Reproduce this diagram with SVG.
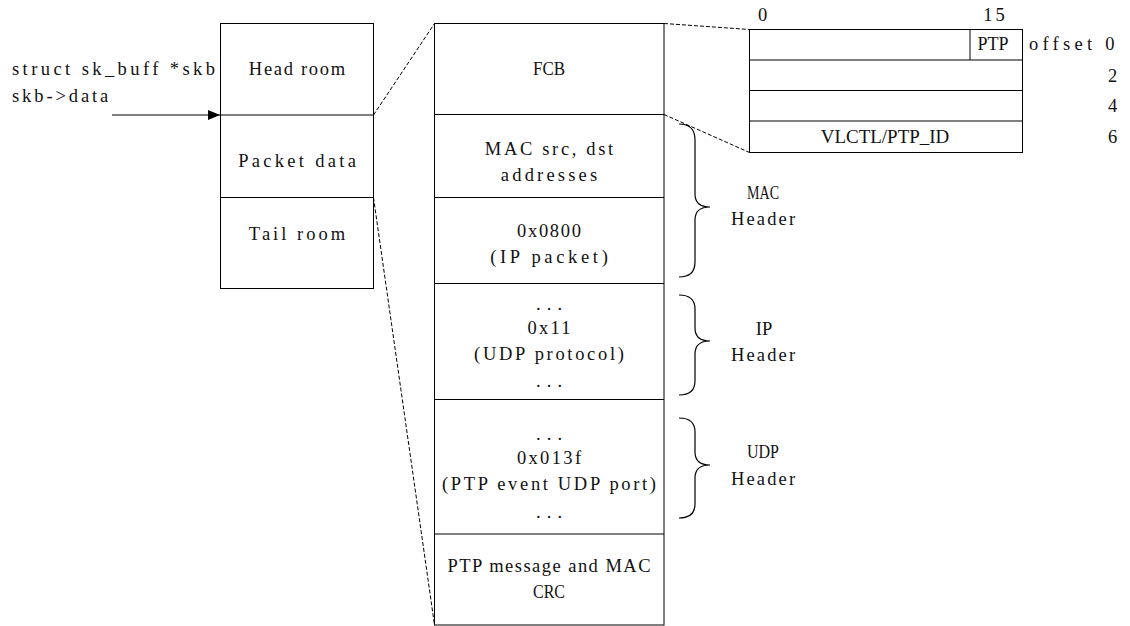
<svg xmlns="http://www.w3.org/2000/svg" width="1130" height="626" viewBox="0 0 1130 626">
  <style>
    text { font-family: "Liberation Serif", "DejaVu Serif", serif; font-size: 18.5px; fill: #111; }
    .c { text-anchor: middle; }
    .box { fill: #fff; stroke: #000; stroke-width: 1; }
    .rule { stroke: #000; stroke-width: 1; fill: none; }
    .dash { stroke: #000; stroke-width: 1; stroke-dasharray: 4 2; fill: none; }
    .brace { stroke: #000; stroke-width: 1.2; fill: none; }
  </style>
  <defs>
    <marker id="arrow" viewBox="0 0 12 10" refX="12" refY="5" markerWidth="12" markerHeight="10" markerUnits="userSpaceOnUse" orient="auto">
      <path d="M0,0 L12,5 L0,10 Z" fill="#000"/>
    </marker>
  </defs>

  <rect width="1130" height="626" fill="#fff"/>

  <!-- pointer labels; fixed-pitch cells of 10.7px per character -->
  <g id="skb-label">
    <text x="12" y="75" textLength="203" lengthAdjust="spacing">struct sk_buff *skb</text>
    <text x="12" y="101.5" textLength="96.3" lengthAdjust="spacing">skb-&gt;data</text>
  </g>

  <!-- socket buffer -->
  <g id="skb-buffer">
    <rect class="box" x="220.5" y="23.5" width="153" height="265"/>
    <line class="rule" x1="220.5" y1="115" x2="373.5" y2="115"/>
    <line class="rule" x1="220.5" y1="197.5" x2="373.5" y2="197.5"/>
    <text class="c" x="297" y="75" textLength="96.3" lengthAdjust="spacing">Head room</text>
    <text class="c" x="297" y="166.5" textLength="117.7" lengthAdjust="spacing">Packet data</text>
    <text class="c" x="297" y="240" textLength="96.3" lengthAdjust="spacing">Tail room</text>
  </g>

  <!-- packet layout -->
  <g id="packet">
    <rect class="box" x="434.5" y="23.5" width="229.5" height="601.5"/>
    <line class="rule" x1="434.5" y1="114.5" x2="664" y2="114.5"/>
    <line class="rule" x1="434.5" y1="197.5" x2="664" y2="197.5"/>
    <line class="rule" x1="434.5" y1="283.5" x2="664" y2="283.5"/>
    <line class="rule" x1="434.5" y1="399.5" x2="664" y2="399.5"/>
    <line class="rule" x1="434.5" y1="534" x2="664" y2="534"/>
    <text class="c" x="549" y="75" textLength="32" lengthAdjust="spacingAndGlyphs">FCB</text>
    <text class="c" x="549" y="155" textLength="128.4" lengthAdjust="spacing">MAC src, dst</text>
    <text class="c" x="549" y="180.5" textLength="96.3" lengthAdjust="spacing">addresses</text>
    <text class="c" x="549" y="237" textLength="64.2" lengthAdjust="spacing">0x0800</text>
    <text class="c" x="549" y="262.5" textLength="117.7" lengthAdjust="spacing">(IP packet)</text>
    <text class="c" x="549" y="310" textLength="26" lengthAdjust="spacing">...</text>
    <text class="c" x="549" y="334" textLength="42.8" lengthAdjust="spacing">0x11</text>
    <text class="c" x="549" y="360" textLength="149.8" lengthAdjust="spacing">(UDP protocol)</text>
    <text class="c" x="549" y="387" textLength="26" lengthAdjust="spacing">...</text>
    <text class="c" x="549" y="440" textLength="26" lengthAdjust="spacing">...</text>
    <text class="c" x="549" y="463.5" textLength="64.2" lengthAdjust="spacing">0x013f</text>
    <text class="c" x="549" y="490" textLength="214" lengthAdjust="spacing">(PTP event UDP port)</text>
    <text class="c" x="549" y="518" textLength="26" lengthAdjust="spacing">...</text>
    <text class="c" x="549" y="571.5" textLength="203" lengthAdjust="spacing">PTP message and MAC</text>
    <text class="c" x="549" y="598" textLength="32" lengthAdjust="spacingAndGlyphs">CRC</text>
  </g>

  <!-- FCB layout -->
  <g id="fcb">
    <rect class="box" x="749.5" y="29.5" width="273" height="123"/>
    <line class="rule" x1="749.5" y1="60" x2="1022.5" y2="60"/>
    <line class="rule" x1="749.5" y1="90.5" x2="1022.5" y2="90.5"/>
    <line class="rule" x1="749.5" y1="121" x2="1022.5" y2="121"/>
    <line class="rule" x1="970" y1="29.5" x2="970" y2="60"/>
    <text x="758" y="21">0</text>
    <text class="c" x="994" y="21" textLength="21.4" lengthAdjust="spacing">15</text>
    <text class="c" x="993" y="50" textLength="31" lengthAdjust="spacingAndGlyphs">PTP</text>
    <text class="c" x="885" y="143" textLength="128.4" lengthAdjust="spacingAndGlyphs">VLCTL/PTP_ID</text>
    <text x="1029" y="50" textLength="85.6" lengthAdjust="spacing">offset 0</text>
    <text x="1108" y="81.5">2</text>
    <text x="1108" y="112">4</text>
    <text x="1108" y="143">6</text>
  </g>

  <!-- header braces -->
  <g id="mac-header">
    <path class="brace" d="M679,124 C690,124 695,130 695,140 L695,194 C695,203 700,207 710,207 C700,207 695,211 695,220 L695,262 C695,272 690,277 679,277"/>
    <text class="c" x="763" y="199" textLength="32" lengthAdjust="spacingAndGlyphs">MAC</text>
    <text class="c" x="763" y="225" textLength="64.2" lengthAdjust="spacing">Header</text>
  </g>
  <g id="ip-header">
    <path class="brace" d="M679,295 C690,295 695,300 695,309 L695,328 C695,337 700,341 710,341 C700,341 695,345 695,354 L695,381 C695,390 690,395 679,395"/>
    <text class="c" x="764" y="335">IP</text>
    <text class="c" x="763" y="361" textLength="64.2" lengthAdjust="spacing">Header</text>
  </g>
  <g id="udp-header">
    <path class="brace" d="M679,418 C690,418 695,423 695,432 L695,452 C695,461 700,465 710,465 C700,465 695,469 695,478 L695,504 C695,513 690,518 679,518"/>
    <text class="c" x="763" y="458" textLength="32" lengthAdjust="spacingAndGlyphs">UDP</text>
    <text class="c" x="763" y="485" textLength="64.2" lengthAdjust="spacing">Header</text>
  </g>

  <!-- connectors -->
  <g id="connectors">
    <line class="rule" x1="112" y1="115" x2="220" y2="115" marker-end="url(#arrow)"/>
    <line class="dash" x1="373.5" y1="115" x2="434.5" y2="23.5"/>
    <line class="dash" x1="373.5" y1="197.5" x2="434.5" y2="625"/>
    <line class="dash" x1="664" y1="23.5" x2="749.5" y2="29.5"/>
    <line class="dash" x1="664" y1="114.5" x2="749.5" y2="152.5"/>
  </g>
</svg>
